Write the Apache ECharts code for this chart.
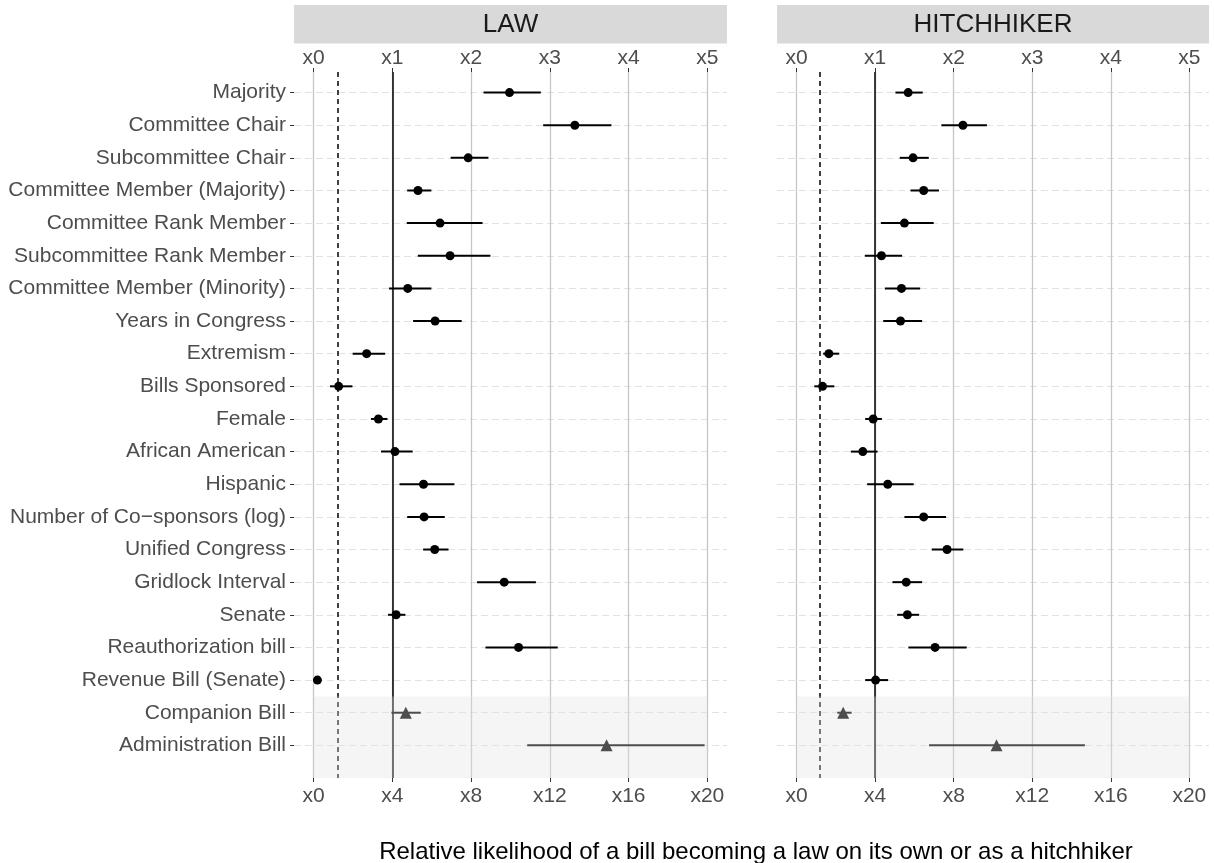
<!DOCTYPE html>
<html>
<head>
<meta charset="utf-8">
<script src="https://cdn.jsdelivr.net/npm/echarts@6/dist/echarts.min.js"></script>
<style>
  html, body { margin: 0; padding: 0; background: #fff; }
  #main { width: 1214px; height: 863px; }
</style>
</head>
<body>
<div id="main"></div>
<script>
// row labels, top to bottom
const categories = [
  'Majority', 'Committee Chair', 'Subcommittee Chair', 'Committee Member (Majority)',
  'Committee Rank Member', 'Subcommittee Rank Member', 'Committee Member (Minority)',
  'Years in Congress', 'Extremism', 'Bills Sponsored', 'Female', 'African American',
  'Hispanic', 'Number of Co\u2212sponsors (log)', 'Unified Congress', 'Gridlock Interval',
  'Senate', 'Reauthorization bill', 'Revenue Bill (Senate)', 'Companion Bill', 'Administration Bill'
];
const triangleRows = ['Companion Bill', 'Administration Bill'];

// LAW panel: lower bound, estimate, upper bound
const lawLo  = [8.63, 11.66, 6.96, 4.75, 4.73, 5.29, 3.83, 5.05, 1.98, 0.83, 2.91, 3.42, 4.36, 4.75, 5.56, 8.30, 3.78, 8.73, 0.15, 3.95, 10.85];
const lawEst = [9.95, 13.27, 7.85, 5.30, 6.42, 6.93, 4.78, 6.17, 2.69, 1.27, 3.29, 4.13, 5.58, 5.61, 6.15, 9.68, 4.19, 10.41, 0.19, 4.68, 14.88];
const lawHi  = [11.54, 15.13, 8.88, 5.98, 8.58, 8.98, 5.98, 7.52, 3.63, 1.97, 3.75, 5.03, 7.15, 6.66, 6.85, 11.29, 4.66, 12.40, 0.24, 5.44, 19.86];

// HITCHHIKER panel
const hitchLo  = [5.03, 7.37, 5.25, 5.80, 4.29, 3.47, 4.49, 4.41, 1.35, 0.90, 3.49, 2.76, 3.59, 5.49, 6.88, 4.88, 5.12, 5.69, 3.49, 2.07, 6.74];
const hitchEst = [5.68, 8.47, 5.93, 6.47, 5.49, 4.32, 5.34, 5.29, 1.64, 1.32, 3.90, 3.37, 4.64, 6.47, 7.66, 5.58, 5.64, 7.05, 4.02, 2.37, 10.18];
const hitchHi  = [6.42, 9.69, 6.73, 7.25, 6.98, 5.37, 6.29, 6.39, 2.17, 1.92, 4.34, 4.12, 5.96, 7.61, 8.49, 6.39, 6.24, 8.66, 4.66, 2.80, 14.68];

const bottomTicks = [0, 4, 8, 12, 16, 20];
const solidRef = 4;
const dashedRef = 1.2;
const panels = ['LAW', 'HITCHHIKER'];

const rowIdx = categories.map((c, i) => i);
const shadeStart = categories.indexOf('Companion Bill') - 0.5;
const FONT = 'Liberation Sans, Arial, sans-serif';

const chart = echarts.init(document.getElementById('main'));

function xAxes(gridIndex) {
  return [
    {
      gridIndex, type: 'value', min: -1, max: 21, position: 'bottom',
      axisLine: { show: false, onZero: false },
      axisTick: { customValues: bottomTicks, length: 4, lineStyle: { color: '#333' } },
      axisLabel: { customValues: bottomTicks, formatter: v => 'x' + v, color: '#4D4D4D', fontSize: 21, fontFamily: FONT, margin: 8 },
      splitLine: { show: true, lineStyle: { color: '#C6C6C6', width: 1.3 } }
    },
    {
      gridIndex, type: 'value', min: -1, max: 21, position: 'top',
      axisLine: { show: false, onZero: false },
      axisTick: { customValues: bottomTicks, length: 4, lineStyle: { color: '#333' } },
      axisLabel: { customValues: bottomTicks, formatter: v => 'x' + (v / 4), color: '#4D4D4D', fontSize: 21, fontFamily: FONT, margin: 3 },
      splitLine: { show: false }
    }
  ];
}

function yAxis(gridIndex, showLabels) {
  return {
    gridIndex, type: 'value', inverse: true, min: -0.63, max: 21, position: 'left',
    axisLine: { show: false, onZero: false },
    axisTick: { show: showLabels, customValues: rowIdx, length: 4, lineStyle: { color: '#333' } },
    axisLabel: { show: showLabels, customValues: rowIdx, formatter: v => categories[v], color: '#4D4D4D', fontSize: 21, fontFamily: FONT, margin: 8 },
    splitLine: { show: true, lineStyle: { color: '#E2E2E2', width: 1, type: [7, 4] } }
  };
}

function panelSeries(p, lo, est, hi) {
  const xi = p * 2, yi = p;
  return [
    {
      type: 'scatter', xAxisIndex: xi, yAxisIndex: yi, data: [], z: 2, silent: true,
      markLine: {
        silent: true, symbol: 'none', label: { show: false },
        data: [
          { xAxis: solidRef, lineStyle: { color: '#000', width: 1.5, type: 'solid' } },
          { xAxis: dashedRef, lineStyle: { color: '#000', width: 1.5, type: [5, 4] } }
        ]
      }
    },
    {
      type: 'custom', xAxisIndex: xi, yAxisIndex: yi, z: 3, silent: true,
      encode: { x: [0, 1], y: 2 },
      data: categories.map((c, i) => [lo[i], hi[i], i]),
      renderItem: (params, api) => {
        const a = api.coord([api.value(0), api.value(2)]);
        const b = api.coord([api.value(1), api.value(2)]);
        return { type: 'line', shape: { x1: a[0], y1: a[1], x2: b[0], y2: b[1] }, style: { stroke: '#000', lineWidth: 2 } };
      }
    },
    {
      type: 'scatter', xAxisIndex: xi, yAxisIndex: yi, z: 4, silent: true,
      itemStyle: { color: '#000', opacity: 1 },
      data: categories.map((c, i) => ({
        value: [est[i], i],
        symbol: triangleRows.includes(c) ? 'triangle' : 'circle',
        symbolSize: triangleRows.includes(c) ? 12 : 9
      }))
    },
    {
      type: 'custom', xAxisIndex: xi, yAxisIndex: yi, z: 10, silent: true,
      data: [[0, 20, shadeStart, categories.length]],
      renderItem: (params, api) => {
        const a = api.coord([api.value(0), api.value(2)]);
        const b = api.coord([api.value(1), api.value(3)]);
        return { type: 'rect', shape: { x: a[0], y: a[1], width: b[0] - a[0], height: b[1] - a[1] }, style: { fill: 'rgba(226,226,226,0.34)' } };
      }
    }
  ];
}

const strips = [[294, 433], [777, 432]];

chart.setOption({
  animation: false,
  backgroundColor: '#fff',
  title: {
    text: 'Relative likelihood of a bill becoming a law on its own or as a hitchhiker',
    left: 751, top: 835, textAlign: 'center',
    textStyle: { fontSize: 24, fontWeight: 'normal', color: '#000', fontFamily: FONT }
  },
  grid: [
    { left: 294, right: 487, top: 72, bottom: 85 },
    { left: 777, right: 5, top: 72, bottom: 85 }
  ],
  xAxis: [...xAxes(0), ...xAxes(1)],
  yAxis: [yAxis(0, true), yAxis(1, false)],
  graphic: strips.map((s, i) => ({
    type: 'group', left: s[0], top: 5,
    children: [
      { type: 'rect', shape: { x: 0, y: 0, width: s[1], height: 38.5 }, style: { fill: '#D9D9D9' } },
      { type: 'text', x: s[1] / 2, y: 20, style: { text: panels[i], fontSize: 26, fontFamily: FONT, fill: '#1A1A1A', align: 'center', verticalAlign: 'middle' } }
    ]
  })),
  series: [
    ...panelSeries(0, lawLo, lawEst, lawHi),
    ...panelSeries(1, hitchLo, hitchEst, hitchHi)
  ]
});
</script>
</body>
</html>
